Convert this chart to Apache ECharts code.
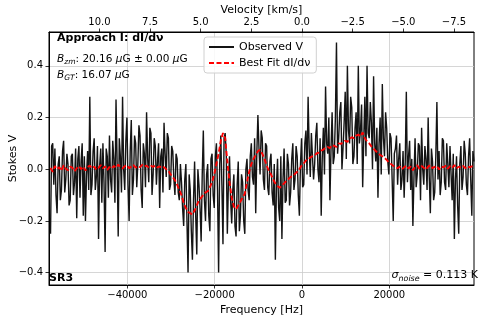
<!DOCTYPE html>
<html lang="en">
<head>
  <meta charset="UTF-8">
  <title>Stokes V fit</title>
  <style>
    html, body {margin: 0; padding: 0; background: #fff}
    #chart {width: 479px; height: 320px}
  </style>
  <script src="https://cdn.jsdelivr.net/npm/echarts@6/dist/echarts.min.js"></script>
</head>
<body>
<div id="chart"></div>
<script>
// channel grids of the spectrum and of the fit
const freqStart = -57600;
const obsChanWidth = 250;
const fitChanWidth = 500;
const freqMin = -57950, freqMax = 39400;
const hzPerKms = 4640;   // frequency offset per km/s

const observedV = [
  -0.25, 0.09, 0.10, -0.06, 0.08, -0.10, -0.17, 0.02, 0.05, -0.12, -0.08, 0.07, 0.11, -0.09, -0.04, 0.06, 0.02, -0.14, -0.12, 0.05,
  0.06, -0.10, -0.05, 0.08, -0.19, 0.04, 0.09, -0.11, 0.03, 0.10, -0.18, 0.05, -0.20, -0.02, 0.07, -0.08, 0.28, -0.10, -0.06, 0.07,
  0.12, -0.08, -0.03, 0.09, -0.27, 0.01, 0.08, -0.13, 0.10, -0.05, -0.32, 0.08, 0.05, -0.11, 0.13, -0.04, -0.09, 0.11, 0.04, -0.13,
  0.27, 0.03, -0.26, 0.12, 0.05, -0.09, 0.28, 0.00, -0.08, 0.11, 0.20, -0.06, -0.20, 0.07, 0.19, -0.10, -0.04, 0.13, 0.10, -0.07,
  0.02, 0.17, 0.13, -0.08, -0.15, 0.10, 0.06, -0.07, 0.22, 0.04, -0.05, 0.16, 0.14, -0.10, -0.02, 0.12, 0.09, -0.06, 0.03, 0.10,
  -0.15, 0.05, 0.08, -0.09, 0.18, 0.06, -0.03, 0.14, 0.12, -0.08, -0.06, 0.09, 0.07, -0.04, -0.10, 0.06, 0.04, -0.09, -0.12, 0.02,
  -0.05, -0.15, -0.22, -0.04, 0.02, -0.20, -0.40, -0.02, -0.08, -0.24, -0.35, -0.12, 0.03, -0.18, -0.33, 0.00, -0.06, -0.15, -0.28, -0.02,
  0.15, -0.12, -0.20, -0.02, 0.02, -0.18, -0.24, 0.04, 0.06, -0.10, -0.15, 0.05, 0.10, -0.08, -0.40, 0.02, 0.13, -0.06, -0.29, 0.12,
  0.14, 0.06, -0.25, -0.05, 0.05, -0.12, -0.21, -0.08, -0.02, -0.22, -0.26, -0.06, 0.03, -0.24, -0.18, -0.02, -0.05, -0.20, -0.25, 0.00,
  0.04, -0.08, -0.12, 0.05, 0.10, -0.03, -0.06, 0.12, -0.17, 0.06, 0.21, 0.08, -0.02, 0.15, 0.12, -0.04, -0.08, 0.10, 0.09, -0.07,
  -0.10, 0.03, 0.06, -0.09, -0.14, 0.02, -0.35, -0.06, 0.04, -0.15, -0.20, 0.05, -0.27, -0.04, 0.08, -0.13, -0.12, 0.06, 0.02, -0.14,
  -0.09, 0.04, 0.10, -0.08, -0.04, 0.09, 0.05, -0.10, -0.18, 0.02, 0.12, -0.07, -0.06, 0.10, 0.15, -0.02, 0.28, 0.08, -0.03, 0.14,
  0.14, -0.04, 0.02, 0.13, 0.18, 0.00, -0.05, 0.12, -0.18, 0.05, 0.16, -0.02, 0.32, 0.10, 0.06, 0.20, -0.12, 0.08, 0.22, 0.02,
  0.05, 0.20, 0.49, 0.06, 0.12, 0.22, 0.26, 0.00, 0.08, 0.18, 0.30, 0.04, 0.40, 0.15, 0.10, 0.28, 0.24, 0.02, 0.05, 0.16,
  0.22, 0.02, 0.40, 0.10, 0.15, 0.25, -0.07, 0.12, 0.28, 0.05, 0.40, 0.14, 0.12, 0.26, 0.18, 0.00, 0.36, 0.10, 0.03, 0.16,
  -0.11, 0.10, 0.20, -0.02, 0.33, 0.12, 0.05, 0.22, 0.16, 0.03, -0.02, 0.14, 0.12, -0.04, -0.20, 0.06, 0.08, 0.13, -0.06, 0.04,
  0.10, -0.08, -0.04, 0.07, -0.11, 0.03, 0.30, -0.05, 0.05, 0.11, -0.08, 0.04, -0.22, -0.03, 0.12, -0.07, -0.02, 0.10, 0.09, -0.12,
  0.16, 0.00, -0.06, 0.09, 0.04, -0.08, 0.20, -0.03, -0.17, 0.08, 0.03, -0.12, -0.09, 0.05, 0.26, -0.04, 0.07, -0.10, -0.05, 0.12,
  0.11, -0.05, -0.08, 0.10, 0.02, -0.07, 0.09, -0.02, -0.12, 0.06, -0.27, -0.04, 0.05, -0.14, -0.25, 0.02, 0.09, -0.08, -0.03, 0.11,
  0.06, -0.06, -0.10, 0.05, 0.12, -0.04, -0.18, 0.07, 0.03
];

const bestFit = [
  0.005, -0.01, 0.012, 0.0, 0.008, -0.006, 0.015, 0.002, -0.004, 0.01,
  0.006, -0.008, 0.004, 0.012, 0.0, 0.01, -0.005, 0.008, 0.014, 0.003,
  0.01, -0.002, 0.006, 0.016, 0.004, 0.011, -0.003, 0.009, 0.002, 0.013,
  0.005, 0.018, 0.008, 0.003, 0.012, 0.015, 0.004, 0.01, 0.016, 0.006,
  0.012, 0.008, 0.017, 0.01, 0.014, 0.006, 0.013, 0.009, 0.015, 0.007,
  0.011, 0.004, 0.008, 0.0, -0.006, -0.02, -0.03, -0.042, -0.06, -0.08,
  -0.10, -0.13, -0.15, -0.165, -0.17, -0.175, -0.16, -0.14, -0.12, -0.11,
  -0.10, -0.09, -0.085, -0.07, -0.05, -0.02, 0.02, 0.06, 0.11, 0.14,
  0.12, 0.03, -0.05, -0.11, -0.145, -0.155, -0.14, -0.125, -0.11, -0.095,
  -0.05, -0.01, 0.02, 0.04, 0.055, 0.07, 0.075, 0.06, 0.04, 0.015,
  -0.005, -0.02, -0.04, -0.055, -0.065, -0.072, -0.062, -0.055, -0.045, -0.038,
  -0.03, -0.026, -0.018, -0.01, 0.0, 0.014, 0.022, 0.034, 0.036, 0.046,
  0.05, 0.052, 0.062, 0.064, 0.072, 0.076, 0.084, 0.086, 0.082, 0.094,
  0.09, 0.086, 0.1, 0.098, 0.104, 0.11, 0.106, 0.118, 0.124, 0.12,
  0.13, 0.134, 0.127, 0.142, 0.12, 0.108, 0.1, 0.088, 0.08, 0.07,
  0.064, 0.055, 0.05, 0.044, 0.036, 0.026, 0.02, 0.013, 0.01, 0.004,
  0.01, 0.0, 0.008, 0.014, 0.003, 0.011, -0.004, 0.009, 0.015, 0.002,
  0.012, 0.006, -0.002, 0.01, 0.016, 0.004, 0.009, 0.013, -0.001, 0.011,
  0.007, 0.014, 0.002, 0.012, 0.005, 0.016, 0.003, 0.01, 0.006, 0.013,
  0.004, 0.012, 0.007, 0.011, 0.008
];

const freqTicks = [-40000, -20000, 0, 20000];
const velTicks = [10, 7.5, 5, 2.5, 0, -2.5, -5, -7.5];
const stokesTicks = [-0.4, -0.2, 0, 0.2, 0.4];

const obsFreqs = observedV.map((v, i) => freqStart + i * obsChanWidth);
const fitFreqs = bestFit.map((v, i) => freqStart + i * fitChanWidth);
const minus = s => s.replace('-', '\u2212');
const font = '"DejaVu Sans", sans-serif';

const axisCommon = {
  axisLine: {onZero: false, lineStyle: {color: '#000', width: 1}},
  axisTick: {inside: false, length: 3.5, lineStyle: {color: '#000', width: 0.8}},
  axisLabel: {color: '#000', fontSize: 10, fontFamily: font},
  nameTextStyle: {color: '#000', fontSize: 11, fontFamily: font}
};

const richMath = size => ({
  n: {fontSize: size, fontFamily: font, lineHeight: 14, fill: '#000'},
  i: {fontSize: size, fontFamily: font, fontStyle: 'italic', lineHeight: 14, fill: '#000'},
  s: {fontSize: size * 0.72, fontFamily: font, fontStyle: 'italic', lineHeight: 14, verticalAlign: 'bottom', fill: '#000'}
});

const chart = echarts.init(document.getElementById('chart'));
chart.setOption({
  animation: false,
  textStyle: {fontFamily: font},
  grid: {left: 49, right: 5, top: 32, bottom: 35, outerBoundsMode: 'none', containLabel: false,
         show: true, borderColor: '#000', borderWidth: 1},
  legend: {
    data: ['Observed V', 'Best Fit dI/d\u03bd'],
    orient: 'vertical', left: 204, top: 37,
    itemWidth: 25, itemHeight: 12, itemGap: 4, itemTextGap: 8,
    padding: [4, 6, 4, 4],
    itemStyle: {opacity: 0},
    backgroundColor: 'rgba(255,255,255,0.85)',
    borderColor: '#d0d0d0', borderWidth: 1, borderRadius: 3,
    textStyle: {color: '#000', fontSize: 11, fontFamily: font, lineHeight: 12}
  },
  xAxis: [{
    type: 'value', position: 'bottom', min: freqMin, max: freqMax,
    name: 'Frequency [Hz]', nameLocation: 'middle', nameGap: 19,
    axisLine: axisCommon.axisLine, nameTextStyle: axisCommon.nameTextStyle,
    axisTick: Object.assign({customValues: freqTicks}, axisCommon.axisTick),
    axisLabel: Object.assign({customValues: freqTicks, margin: 5, formatter: v => minus(String(v))}, axisCommon.axisLabel),
    splitLine: {show: true, lineStyle: {color: '#cccccc', width: 0.8}}
  }, {
    type: 'value', position: 'top', inverse: true,
    min: -freqMax / hzPerKms, max: -freqMin / hzPerKms,
    name: 'Velocity [km/s]', nameLocation: 'middle', nameGap: 16, nameMoveOverlap: false,
    axisLine: axisCommon.axisLine, nameTextStyle: axisCommon.nameTextStyle,
    axisTick: Object.assign({customValues: velTicks}, axisCommon.axisTick),
    axisLabel: Object.assign({customValues: velTicks, margin: 5, formatter: v => minus(v.toFixed(1))}, axisCommon.axisLabel),
    splitLine: {show: false}
  }],
  yAxis: {
    type: 'value', min: -0.448, max: 0.531,
    name: 'Stokes V', nameLocation: 'middle', nameGap: 30, nameRotate: 90, nameMoveOverlap: false,
    axisLine: axisCommon.axisLine, nameTextStyle: axisCommon.nameTextStyle,
    axisTick: Object.assign({customValues: stokesTicks}, axisCommon.axisTick),
    axisLabel: Object.assign({customValues: stokesTicks, margin: 6, formatter: v => minus(v.toFixed(1))}, axisCommon.axisLabel),
    splitLine: {show: true, lineStyle: {color: '#cccccc', width: 0.8}}
  },
  series: [{
    name: 'Observed V', type: 'line', xAxisIndex: 0,
    data: obsFreqs.map((f, i) => [f, observedV[i]]),
    symbol: 'none', lineStyle: {color: '#141414', width: 1.4},
    itemStyle: {color: '#141414'}, z: 2
  }, {
    name: 'Best Fit dI/d\u03bd', type: 'line', xAxisIndex: 0,
    data: fitFreqs.map((f, i) => [f, bestFit[i]]),
    symbol: 'none', lineStyle: {color: '#ff0000', width: 1.9, type: [5, 2.5]},
    itemStyle: {color: '#ff0000'}, z: 3
  }],
  graphic: [{
    type: 'text', left: 57, top: 33, z: 10,
    style: {text: 'Approach I: dI/d\u03bd', font: 'bold 11px ' + font, fill: '#000'}
  }, {
    type: 'text', left: 57, top: 54, z: 10,
    style: {
      text: '{i|B}{s|zm}{n|: 20.16 }{i|\u03bc}{n|G \u00b1 0.00 }{i|\u03bc}{n|G}',
      fill: '#000', rich: richMath(10.5)
    }
  }, {
    type: 'text', left: 57, top: 70, z: 10,
    style: {
      text: '{i|B}{s|GT}{n|: 16.07 }{i|\u03bc}{n|G}',
      fill: '#000', rich: richMath(10.5)
    }
  }, {
    type: 'text', left: 49, top: 273, z: 10,
    style: {text: 'SR3', font: 'bold 11px ' + font, fill: '#000'}
  }, {
    type: 'text', right: 1, top: 270, z: 10,
    style: {
      text: '{i|\u03c3}{s|noise}{n| = 0.113 K}',
      fill: '#000', rich: richMath(11)
    }
  }]
});
</script>
</body>
</html>
